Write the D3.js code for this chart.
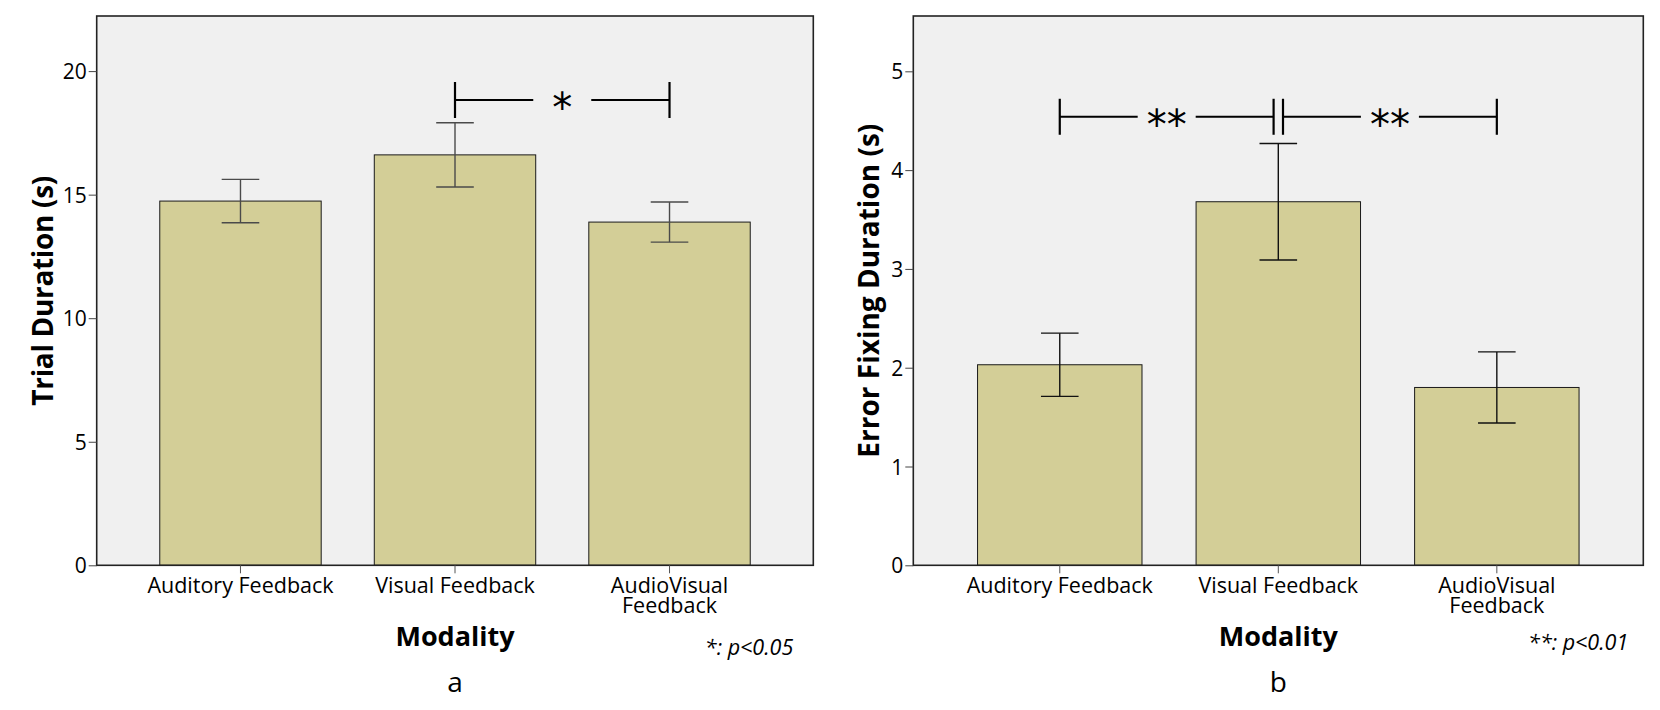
<!DOCTYPE html>
<html>
<head>
<meta charset="utf-8">
<script src="https://cdn.jsdelivr.net/npm/d3@7"></script>
<style>
  body { margin: 0; background: #fff; }
  text { font-family: "Open Sans", sans-serif; fill: #000; }
</style>
</head>
<body>
<div id="chart"></div>
<script>
// Categories on the x axis (third label wraps on two lines)
const categories = ["Auditory Feedback", "Visual Feedback", "AudioVisual Feedback"];
const tickLabels = [["Auditory Feedback"], ["Visual Feedback"], ["AudioVisual", "Feedback"]];

// Panel a: trial duration (s), mean and error bar ends
const trialMean = [14.74, 16.61, 13.89];
const trialLow = [13.86, 15.31, 13.08];
const trialHigh = [15.62, 17.91, 14.70];
const trialTicks = [0, 5, 10, 15, 20];
const trialMax = 22.23;
const trialSig = [{ from: 1, to: 2, y: 18.83, label: "*" }];

// Panel b: error fixing duration (s)
const errorMean = [2.03, 3.68, 1.80];
const errorLow = [1.71, 3.09, 1.44];
const errorHigh = [2.35, 4.27, 2.16];
const errorTicks = [0, 1, 2, 3, 4, 5];
const errorMax = 5.56;
const errorSig = [
  { from: 0, to: 1, y: 4.54, label: "**" },
  { from: 1, to: 2, y: 4.54, label: "**" }
];

const W = 1660, H = 710;
const plotTop = 16, plotH = 549.3;

const svg = d3.select("#chart").append("svg")
  .attr("width", W)
  .attr("height", H);

function drawPanel(cfg) {
  const g = svg.append("g").attr("transform", `translate(${cfg.left}, ${plotTop})`);
  const w = cfg.width;

  const x = d3.scaleBand()
    .domain(categories)
    .range([0, w])
    .paddingInner(0.2475)
    .paddingOuter(0.294);

  const y = d3.scaleLinear()
    .domain([0, cfg.max])
    .range([plotH, 0]);

  const data = categories.map((c, i) => ({
    cat: c, mean: cfg.mean[i], low: cfg.low[i], high: cfg.high[i]
  }));

  // plot background
  g.append("rect")
    .attr("width", w)
    .attr("height", plotH)
    .attr("fill", "#f0f0f0");

  // bars
  g.selectAll(".bar")
    .data(data)
    .enter()
    .append("rect")
    .attr("class", "bar")
    .attr("x", d => x(d.cat))
    .attr("y", d => y(d.mean))
    .attr("width", x.bandwidth())
    .attr("height", d => plotH - y(d.mean))
    .attr("fill", "#d3ce97")
    .attr("stroke", "#1a1a1a")
    .attr("stroke-width", 1);

  // error bars
  const cx = d => x(d.cat) + x.bandwidth() / 2;
  const capW = 18.8;
  const eb = g.selectAll(".err").data(data).enter().append("g").attr("class", "err")
    .attr("stroke", cfg.errColor)
    .attr("stroke-width", 1.4);
  eb.append("line")
    .attr("x1", cx).attr("x2", cx)
    .attr("y1", d => y(d.low)).attr("y2", d => y(d.high));
  eb.append("line")
    .attr("x1", d => cx(d) - capW).attr("x2", d => cx(d) + capW)
    .attr("y1", d => y(d.high)).attr("y2", d => y(d.high));
  eb.append("line")
    .attr("x1", d => cx(d) - capW).attr("x2", d => cx(d) + capW)
    .attr("y1", d => y(d.low)).attr("y2", d => y(d.low));

  // significance brackets
  const center = i => x(categories[i]) + x.bandwidth() / 2;
  const shared = i => cfg.sig.filter(s => s.from === i || s.to === i).length > 1;
  const gapHalf = 29, tickHalf = 18, doubleOff = 4.7;
  cfg.sig.forEach(s => {
    const x1 = center(s.from) + (shared(s.from) ? doubleOff : 0);
    const x2 = center(s.to) - (shared(s.to) ? doubleOff : 0);
    const yy = y(s.y);
    const mid = (x1 + x2) / 2;
    const sg = g.append("g").attr("stroke", "#000").attr("stroke-width", 2.2);
    sg.append("line").attr("x1", x1).attr("x2", mid - gapHalf).attr("y1", yy).attr("y2", yy);
    sg.append("line").attr("x1", mid + gapHalf).attr("x2", x2).attr("y1", yy).attr("y2", yy);
    sg.append("line").attr("x1", x1).attr("x2", x1).attr("y1", yy - tickHalf).attr("y2", yy + tickHalf);
    sg.append("line").attr("x1", x2).attr("x2", x2).attr("y1", yy - tickHalf).attr("y2", yy + tickHalf);
    g.append("text")
      .attr("x", mid)
      .attr("y", yy + 22)
      .attr("text-anchor", "middle")
      .style("font-family", "DejaVu Sans")
      .style("font-size", "40px")
      .text(s.label);
  });

  // frame
  g.append("rect")
    .attr("width", w)
    .attr("height", plotH)
    .attr("fill", "none")
    .attr("stroke", "#222")
    .attr("stroke-width", 1.6);

  // y axis
  const yAxis = g.append("g")
    .call(d3.axisLeft(y).tickValues(cfg.ticks).tickSize(8).tickPadding(2).tickFormat(d3.format("d")));
  yAxis.select(".domain").remove();
  yAxis.selectAll("line").attr("stroke", "#444");
  yAxis.selectAll("text")
    .style("font-family", "Open Sans")
    .style("font-size", "21px")
    .attr("dy", "0.36em");

  // x axis
  const xAxis = g.append("g")
    .attr("transform", `translate(0, ${plotH})`)
    .call(d3.axisBottom(x).tickSize(8).tickFormat(""));
  xAxis.select(".domain").remove();
  xAxis.selectAll("line").attr("stroke", "#555");
  xAxis.selectAll(".tick")
    .append("text")
    .attr("text-anchor", "middle")
    .style("font-size", "21.5px")
    .selectAll("tspan")
    .data((d, i) => tickLabels[i])
    .enter()
    .append("tspan")
    .attr("x", 0)
    .attr("y", (d, j) => 28 + j * 20)
    .text(d => d);

  // y title
  g.append("text")
    .attr("transform", `translate(${cfg.yTitleX}, ${plotH / 2}) rotate(-90)`)
    .attr("text-anchor", "middle")
    .attr("textLength", cfg.yTitleLen)
    .attr("lengthAdjust", "spacing")
    .style("font-size", "28px")
    .style("font-weight", "bold")
    .text(cfg.yTitle);

  // x title
  g.append("text")
    .attr("x", w / 2)
    .attr("y", plotH + 80.7)
    .attr("text-anchor", "middle")
    .style("font-size", "27px")
    .style("font-weight", "bold")
    .text("Modality");

  // p-value note
  g.append("text")
    .attr("x", w - cfg.noteRight)
    .attr("y", plotH + cfg.noteY)
    .attr("text-anchor", "end")
    .style("font-size", "21.5px")
    .style("font-style", "italic")
    .text(cfg.note);

  // panel letter
  g.append("text")
    .attr("x", w / 2)
    .attr("y", plotH + 126.4)
    .attr("text-anchor", "middle")
    .style("font-size", "28px")
    .text(cfg.letter);
}

drawPanel({
  left: 96.7, width: 716.6, max: trialMax, ticks: trialTicks,
  mean: trialMean, low: trialLow, high: trialHigh, sig: trialSig,
  errColor: "#4a4a4a", yTitle: "Trial Duration (s)", yTitleX: -43.4, yTitleLen: 230,
  note: "*: p<0.05", noteRight: 20, noteY: 89.7, letter: "a"
});

drawPanel({
  left: 913.3, width: 730, max: errorMax, ticks: errorTicks,
  mean: errorMean, low: errorLow, high: errorHigh, sig: errorSig,
  errColor: "#111", yTitle: "Error Fixing Duration (s)", yTitleX: -34, yTitleLen: 334,
  note: "**: p<0.01", noteRight: 15, noteY: 85, letter: "b"
});
</script>
</body>
</html>
